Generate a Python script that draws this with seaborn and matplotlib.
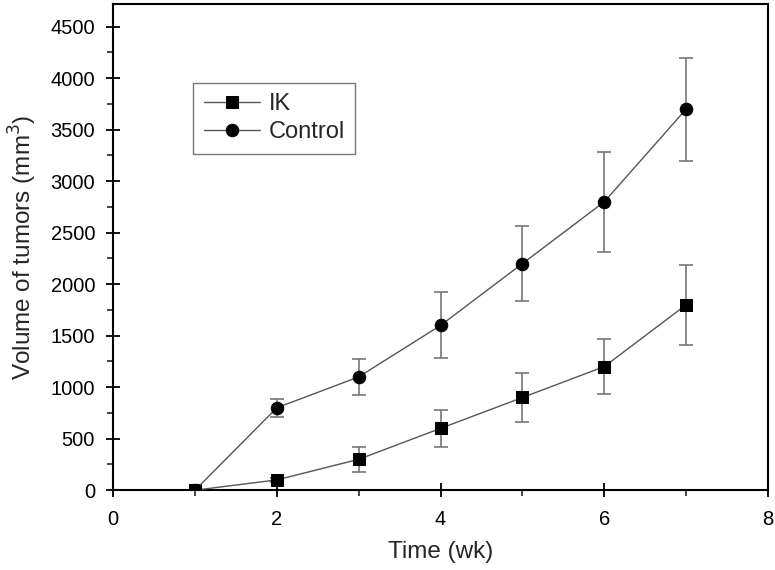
import numpy as np
import pandas as pd
import seaborn as sns
import matplotlib.pyplot as plt
from matplotlib.ticker import MultipleLocator

# data
weeks = [1, 2, 3, 4, 5, 6, 7]
ik_vol = [0, 100, 300, 600, 900, 1200, 1800]
ik_err = [0, 20, 120, 180, 240, 265, 390]
ctrl_vol = [0, 800, 1100, 1600, 2200, 2800, 3700]
ctrl_err = [0, 85, 175, 320, 360, 485, 500]

sns.set_style("ticks")
plt.rcParams['font.family'] = ['Liberation Sans', 'DejaVu Sans']

df = pd.DataFrame({
    'week': weeks * 2,
    'vol': ik_vol + ctrl_vol,
    'group': ['IK'] * 7 + ['Control'] * 7,
})

fig = plt.figure(figsize=(7.75, 5.7), dpi=100)
ax = fig.add_axes([0.146, 0.140, 0.845, 0.853])

ax.errorbar(weeks, ik_vol, yerr=ik_err, fmt='none', ecolor='#777777',
            elinewidth=1.2, capsize=5, capthick=1.2, zorder=2)
ax.errorbar(weeks, ctrl_vol, yerr=ctrl_err, fmt='none', ecolor='#777777',
            elinewidth=1.2, capsize=5, capthick=1.2, zorder=2)

sns.lineplot(data=df, x='week', y='vol', hue='group', style='group',
             markers={'IK': 's', 'Control': 'o'}, dashes=False,
             palette={'IK': '#555555', 'Control': '#555555'},
             linewidth=1.0, markersize=9, markerfacecolor='black',
             markeredgecolor='black', ax=ax, zorder=3)

ax.set_xlim(0, 8)
ax.set_ylim(0, 4720)
ax.xaxis.set_major_locator(MultipleLocator(2))
ax.xaxis.set_minor_locator(MultipleLocator(1))
ax.yaxis.set_major_locator(MultipleLocator(500))
ax.yaxis.set_minor_locator(MultipleLocator(250))
ax.tick_params(which='major', direction='inout', length=10, width=1.3,
               labelsize=14.5, colors='black')
ax.tick_params(axis='x', which='major', pad=9)
ax.tick_params(axis='y', which='major', pad=8)
ax.tick_params(which='minor', direction='out', length=4, width=1.2)
for s in ax.spines.values():
    s.set_linewidth(1.5)
    s.set_color('black')

ax.set_xlabel('Time (wk)', fontsize=17.5, labelpad=9)
ax.set_ylabel('Volume of tumors (mm$^3$)', fontsize=17.5, labelpad=8)

leg = ax.legend(loc='upper left', bbox_to_anchor=(0.122, 0.838), fontsize=17,
                frameon=True, fancybox=False, edgecolor='#555555',
                handlelength=2.4, handletextpad=0.35, borderpad=0.45,
                labelspacing=0.25, borderaxespad=0)
leg.get_frame().set_linewidth(1.0)

fig.savefig('out.png', dpi=100)
